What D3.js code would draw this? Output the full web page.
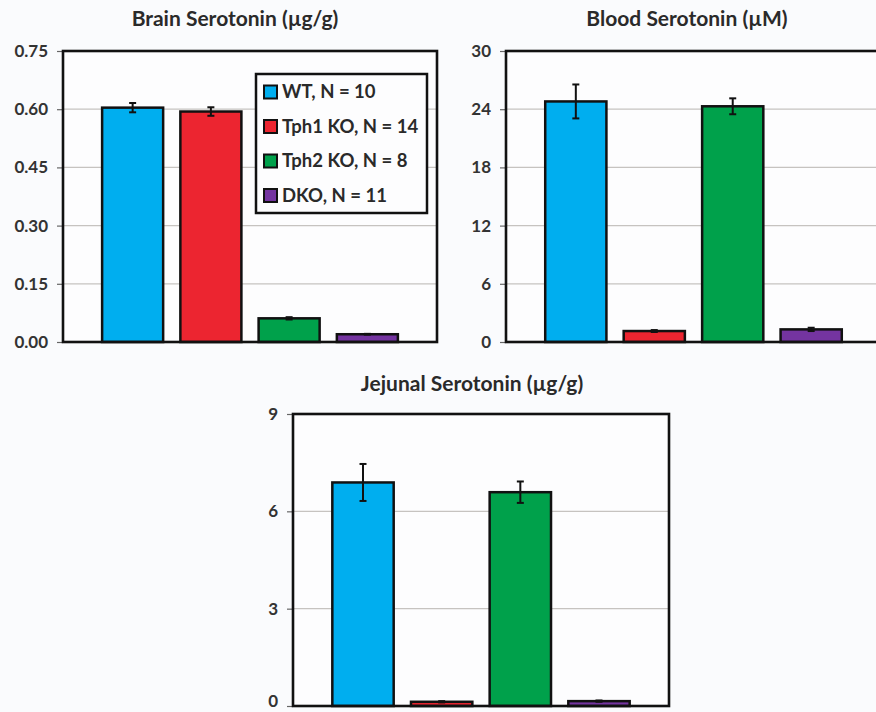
<!DOCTYPE html>
<html>
<head>
<meta charset="utf-8">
<script src="https://cdn.jsdelivr.net/npm/d3@7"></script>
<style>
  body { margin: 0; background: #fafbfd; }
  svg { display: block; }
  .tick text { font-family: Lato, "Open Sans", sans-serif; font-weight: 700; font-size: 17px; fill: #333; }
  .title { font-family: Lato, "Open Sans", sans-serif; font-weight: 700; font-size: 21px; fill: #2a2a2a; }
  .legend text { font-family: Lato, "Open Sans", sans-serif; font-weight: 700; font-size: 18.5px; fill: #2a2a2a; }
</style>
</head>
<body>
<svg width="876" height="712"></svg>
<script>
// groups + colours (same for all three panels)
const groups = ["WT, N = 10", "Tph1 KO, N = 14", "Tph2 KO, N = 8", "DKO, N = 11"];
const colors = ["#00aeef", "#ec2530", "#00a14b", "#7434a0"];

// brain serotonin (ug/g)
const brainMean = [0.604, 0.594, 0.061, 0.020];
const brainErr = [0.012, 0.011, 0.003, 0.001];
const brainTicks = [0, 0.15, 0.30, 0.45, 0.60, 0.75];

// blood serotonin (uM)
const bloodMean = [24.8, 1.13, 24.3, 1.30];
const bloodErr = [1.75, 0.1, 0.82, 0.17];
const bloodTicks = [0, 6, 12, 18, 24, 30];

// jejunal serotonin (ug/g)
const jejMean = [6.89, 0.13, 6.59, 0.15];
const jejErr = [0.57, 0.02, 0.33, 0.02];
const jejTicks = [0, 3, 6, 9];

const svg = d3.select('svg');

const drawPanel = (p) => {
  const w = p.width, h = p.height;
  const g = svg.append('g').attr('transform', `translate(${p.x}, ${p.y})`);

  const x = d3.scaleBand()
    .domain(groups)
    .range([0, w])
    .paddingInner(0.22)
    .paddingOuter(0.5);

  const y = d3.scaleLinear()
    .domain([0, p.ticks[p.ticks.length - 1]])
    .range([h, 0]);

  g.append('rect')
    .attr('width', w).attr('height', h)
    .attr('fill', '#fdfdfe');

  // gridlines
  g.selectAll('.grid').data(p.ticks.slice(1, -1))
    .enter().append('line')
      .attr('x1', 0).attr('x2', w)
      .attr('y1', d => y(d)).attr('y2', d => y(d))
      .attr('stroke', '#c6c3c0')
      .attr('stroke-width', 1.3);

  // y axis
  const ax = g.append('g').call(d3.axisLeft(y).tickValues(p.ticks).tickFormat(p.fmt).tickSize(6).tickPadding(9));
  ax.select('.domain').remove();
  ax.selectAll('.tick line').attr('stroke', '#666').attr('stroke-width', 1.2);
  // keep the bottom label inside the page
  ax.selectAll('.tick text').filter(d => d === 0).attr('dy', p.zeroDy || '0.32em');

  // bars
  g.selectAll('.bar').data(p.mean)
    .enter().append('rect')
      .attr('x', (d, i) => x(groups[i]))
      .attr('y', d => y(d))
      .attr('width', x.bandwidth())
      .attr('height', d => h - y(d))
      .attr('fill', (d, i) => colors[i])
      .attr('stroke', '#111')
      .attr('stroke-width', 2.5);

  // error bars
  const eb = g.selectAll('.err').data(p.mean)
    .enter().append('g')
      .attr('transform', (d, i) => `translate(${x(groups[i]) + x.bandwidth() / 2}, 0)`)
      .attr('stroke', '#111')
      .attr('stroke-width', 2);
  eb.append('line')
    .attr('y1', (d, i) => y(d + p.err[i])).attr('y2', (d, i) => y(d - p.err[i]));
  eb.append('line')
    .attr('x1', -3.5).attr('x2', 3.5)
    .attr('y1', (d, i) => y(d + p.err[i])).attr('y2', (d, i) => y(d + p.err[i]));
  eb.append('line')
    .attr('x1', -3.5).attr('x2', 3.5)
    .attr('y1', (d, i) => y(d - p.err[i])).attr('y2', (d, i) => y(d - p.err[i]));

  // frame
  g.append('rect')
    .attr('width', w).attr('height', h)
    .attr('fill', 'none')
    .attr('stroke', '#111')
    .attr('stroke-width', 2.6);

  svg.append('text')
    .attr('class', 'title')
    .attr('x', p.titleX).attr('y', p.titleY)
    .attr('text-anchor', 'middle')
    .text(p.title);

  return g;
};

drawPanel({
  x: 63, y: 51, width: 374, height: 291,
  mean: brainMean, err: brainErr, ticks: brainTicks, fmt: d3.format('.2f'),
  title: 'Brain Serotonin (µg/g)', titleX: 235, titleY: 26
});

drawPanel({
  x: 506, y: 51, width: 375, height: 291,
  mean: bloodMean, err: bloodErr, ticks: bloodTicks, fmt: d3.format('d'),
  title: 'Blood Serotonin (µM)', titleX: 687, titleY: 26
});

drawPanel({
  x: 293, y: 414, width: 376, height: 292,
  mean: jejMean, err: jejErr, ticks: jejTicks, fmt: d3.format('d'),
  title: 'Jejunal Serotonin (µg/g)', titleX: 472, titleY: 391,
  zeroDy: '0.05em'
});

// legend inside brain panel
const lg = svg.append('g').attr('class', 'legend').attr('transform', 'translate(256, 74)');
lg.append('rect')
  .attr('width', 171).attr('height', 139)
  .attr('fill', '#fdfdfe')
  .attr('stroke', '#111')
  .attr('stroke-width', 2.5);

const items = lg.selectAll('.item').data(groups)
  .enter().append('g')
    .attr('transform', (d, i) => `translate(8, ${18 + i * 34.5})`);
items.append('rect')
  .attr('x', 0).attr('y', -6.5)
  .attr('width', 13).attr('height', 13)
  .attr('fill', (d, i) => colors[i])
  .attr('stroke', '#111')
  .attr('stroke-width', 2);
items.append('text')
  .attr('x', 18).attr('y', 0)
  .attr('dy', '0.35em')
  .text(d => d);
</script>
</body>
</html>
